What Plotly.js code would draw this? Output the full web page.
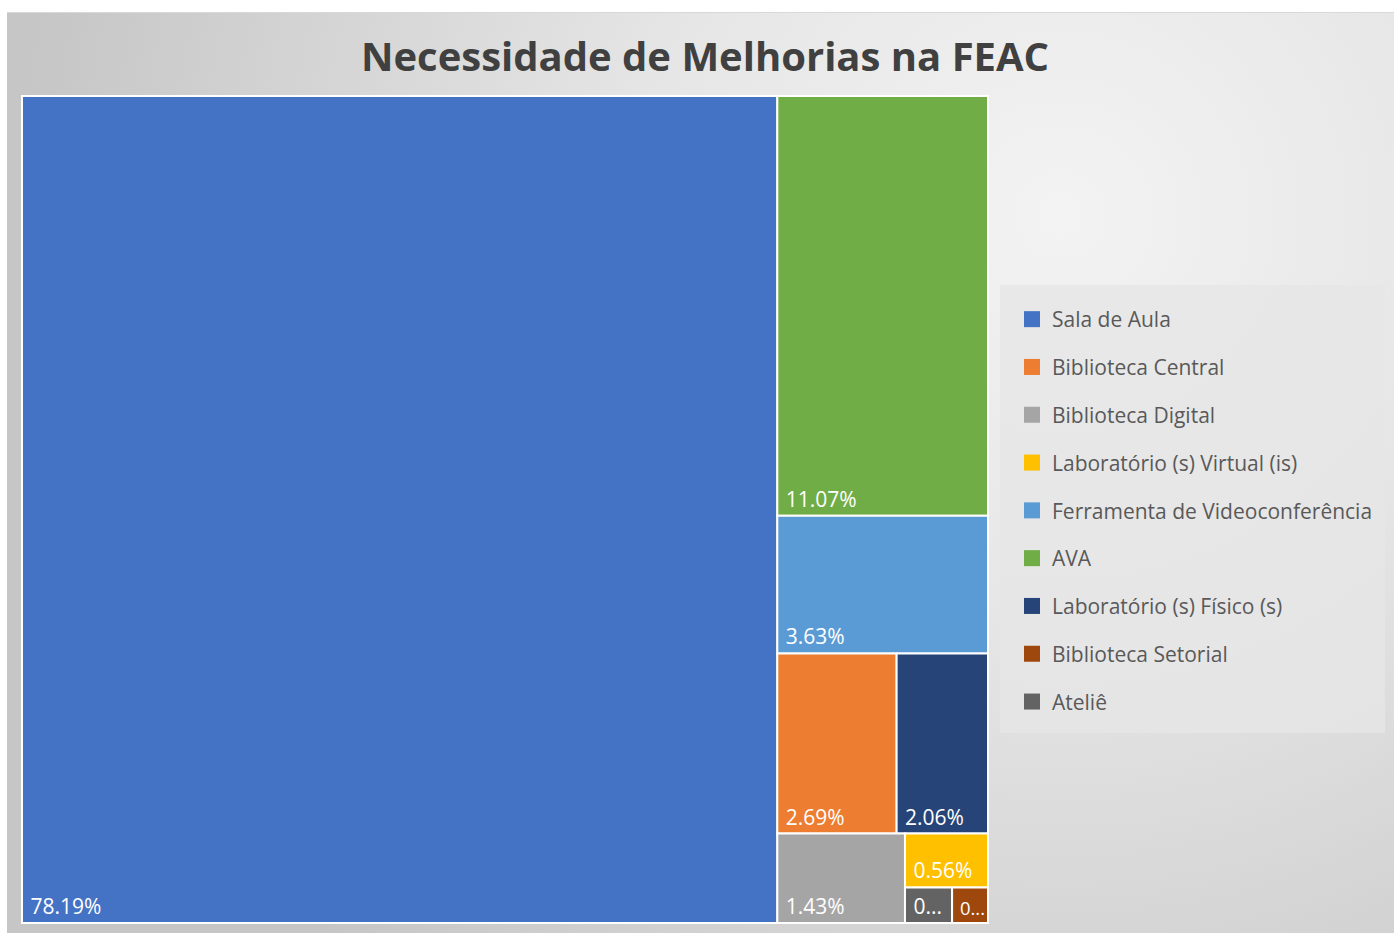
<!DOCTYPE html>
<html>
<head>
<meta charset="utf-8">
<script src="https://cdn.plot.ly/plotly-3.0.1.min.js"></script>
<style>
  html, body { margin: 0; padding: 0; background: #ffffff; }
  #bg {
    position: absolute; left: 7px; top: 12px; width: 1387px; height: 921px;
    background: radial-gradient(ellipse 75% 110% at 76% 22%, #f3f3f3 0%, #e6e6e6 40%, #c6c6c6 100%);
    border-top: 1px solid #d8d8d8;
  }
  #chart { position: absolute; left: 0; top: 0; width: 1394px; height: 933px; }
</style>
</head>
<body>
<div id="bg"></div>
<div id="chart"></div>
<script>
const categories = [
  "Sala de Aula",
  "Biblioteca Central",
  "Biblioteca Digital",
  "Laboratório (s) Virtual (is)",
  "Ferramenta de Videoconferência",
  "AVA",
  "Laboratório (s) Físico (s)",
  "Biblioteca Setorial",
  "Ateliê"
];
const percentValues = [78.19, 2.69, 1.43, 0.56, 3.63, 11.07, 2.06, 0.16, 0.21];
const seriesColors = ["#4472C4", "#ED7D31", "#A5A5A5", "#FFC000", "#5B9BD5", "#70AD47", "#264478", "#9E480E", "#636363"];
const chartTitle = "Necessidade de Melhorias na FEAC";

// Excel truncates labels that do not fit their tile ("0...")
const tileText = percentValues.map(v => "\u00a0" + (v < 0.3 ? "0..." : v.toFixed(2) + "%"));

const W = 1394, H = 933;
const tm = {
  type: "treemap",
  labels: categories,
  parents: categories.map(() => ""),
  values: percentValues,
  text: tileText,
  texttemplate: "%{text}",
  textposition: "bottom left",
  textfont: { family: "Open Sans, sans-serif", size: 21, color: "#ffffff" },
  marker: { colors: seriesColors, line: { color: "#ffffff", width: 2 }, pad: { t: 0, l: 0, r: 0, b: 0 } },
  tiling: { packing: "squarify", squarifyratio: 1, pad: 0 },
  pathbar: { visible: false },
  sort: true,
  hoverinfo: "label+text",
  domain: { x: [22 / W, 988 / W], y: [1 - 923 / H, 1 - 96 / H] },
  showlegend: false
};

const legendTraces = categories.map((c, i) => ({
  type: "scatter",
  mode: "markers",
  x: [null], y: [null],
  name: c,
  legendgroup: "g" + i,
  marker: { symbol: "square", size: 16, color: seriesColors[i] },
  showlegend: true,
  hoverinfo: "skip"
}));

const layout = {
  width: W, height: H,
  margin: { l: 0, r: 0, t: 0, b: 0 },
  paper_bgcolor: "rgba(0,0,0,0)",
  plot_bgcolor: "rgba(0,0,0,0)",
  title: {
    text: "<b>" + chartTitle + "</b>",
    font: { family: "Open Sans, sans-serif", size: 40, color: "#404040" },
    x: 705 / W, xanchor: "center",
    y: 1 - 57 / H, yanchor: "middle"
  },
  xaxis: { visible: false, domain: [0.99, 1] },
  yaxis: { visible: false, domain: [0.99, 1] },
  showlegend: true,
  shapes: [{
    type: "rect", xref: "paper", yref: "paper",
    x0: 1000 / W, x1: 1385 / W, y0: 1 - 733 / H, y1: 1 - 285 / H,
    fillcolor: "rgba(230,230,230,0.8)", line: { width: 0 }, layer: "below"
  }],
  legend: {
    x: 1012 / W, xanchor: "left",
    y: 1 - 299 / H, yanchor: "top",
    bgcolor: "rgba(0,0,0,0)",
    borderwidth: 0,
    font: { family: "Open Sans, sans-serif", size: 21, color: "#595959" },
    tracegroupgap: 17.5,
    traceorder: "grouped",
    itemwidth: 30
  }
};

Plotly.newPlot("chart", [tm].concat(legendTraces), layout, { displayModeBar: false });
</script>
</body>
</html>
